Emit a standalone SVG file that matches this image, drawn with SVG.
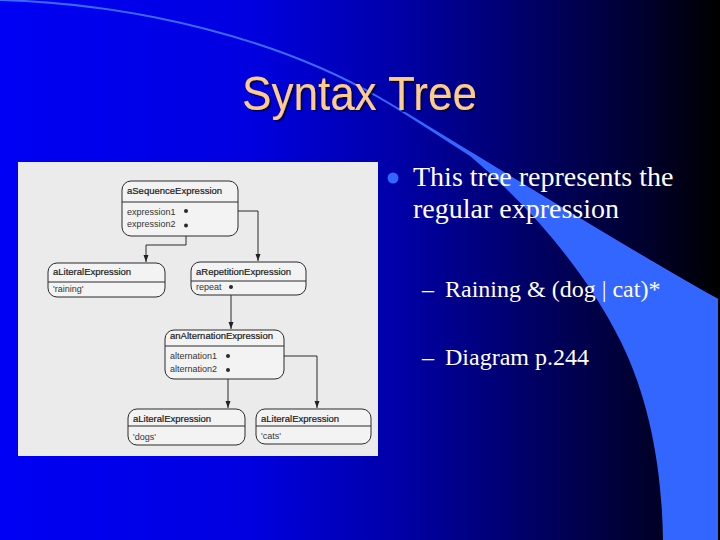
<svg xmlns="http://www.w3.org/2000/svg" width="720" height="540" viewBox="0 0 720 540">
<defs>
<linearGradient id="bg" x1="0" y1="0" x2="1" y2="0">
<stop offset="0" stop-color="#0000f4"/>
<stop offset="0.35" stop-color="#0000e0"/>
<stop offset="0.55" stop-color="#0000a8"/>
<stop offset="0.75" stop-color="#000062"/>
<stop offset="0.9" stop-color="#00002c"/>
<stop offset="1" stop-color="#000000"/>
</linearGradient>
<filter id="sh" x="-5%" y="-20%" width="115%" height="150%">
<feDropShadow dx="2" dy="2" stdDeviation="0.6" flood-color="#000030" flood-opacity="0.7"/>
</filter>
<marker id="arr" markerWidth="8" markerHeight="8" refX="7" refY="4" orient="auto" markerUnits="userSpaceOnUse">
<path d="M0,1.5 L7,4 L0,6.5 Z" fill="#222"/>
</marker>
<style>
.title{font-family:"Liberation Sans",Arial,sans-serif;font-size:48px;fill:#ffcc88}
.body{font-family:"Liberation Serif","Times New Roman",serif;fill:#ffffff}
.box{fill:#f3f3f3;stroke:#2a2a2a;stroke-width:1}
.div{stroke:#2a2a2a;stroke-width:1}
.nt{font-family:"Liberation Sans",Arial,sans-serif;font-size:9.5px;fill:#1a1a1a;stroke:#1a1a1a;stroke-width:0.2}
.at{font-family:"Liberation Sans",Arial,sans-serif;font-size:9px;fill:#333}
.con{fill:none;stroke:#2a2a2a;stroke-width:1}
.dot{fill:#2a2a2a}
</style>
</defs>
<rect width="720" height="540" fill="url(#bg)"/>
<path d="M0,0 C140,4 280,40 380,98 C440,133 618,245 718,300" fill="none" stroke="#3a6aff" stroke-width="2"/>
<path d="M380,98 C440,133 618,245 718,300 L718,540 L663,540 C662,470 650,400 620,340 C590,280 540,215 470,156 Z" fill="#3366ff"/>
<text class="title" x="242" y="110" textLength="235" lengthAdjust="spacingAndGlyphs" filter="url(#sh)">Syntax Tree</text>
<circle cx="393" cy="178" r="5.5" fill="#3366ff"/>
<text class="body" font-size="28" x="413" y="186">This tree represents the</text>
<text class="body" font-size="28" x="413" y="218">regular expression</text>
<text class="body" font-size="24" y="297"><tspan x="422">–</tspan><tspan x="445">Raining &amp; (dog | cat)*</tspan></text>
<text class="body" font-size="24" y="365"><tspan x="422">–</tspan><tspan x="445">Diagram p.244</tspan></text>
<rect x="18" y="162" width="360" height="294" fill="#ebebeb"/>
<g id="connectors">
<path class="con" d="M186,211 H258 V261" marker-end="url(#arr)"/>
<path class="con" d="M186,225.5 V245 H146 V262" marker-end="url(#arr)"/>
<path class="con" d="M231,287 V329" marker-end="url(#arr)"/>
<path class="con" d="M228,356 H317 V408" marker-end="url(#arr)"/>
<path class="con" d="M228,370 V408" marker-end="url(#arr)"/>
</g>
<g id="seq">
<rect class="box" x="122" y="181" width="116" height="55" rx="9"/>
<line class="div" x1="122" y1="202" x2="238" y2="202"/>
<text class="nt" x="127" y="194">aSequenceExpression</text>
<text class="at" x="127" y="215">expression1</text>
<text class="at" x="127" y="227">expression2</text>
<circle class="dot" cx="186" cy="211" r="2"/>
<circle class="dot" cx="186" cy="225.5" r="2"/>
</g>
<g id="lit-raining">
<rect class="box" x="48" y="263" width="117" height="34" rx="9"/>
<line class="div" x1="48" y1="282" x2="165" y2="282"/>
<text class="nt" x="53" y="275">aLiteralExpression</text>
<text class="at" x="53" y="292">'raining'</text>
</g>
<g id="rep">
<rect class="box" x="191" y="262" width="115" height="33" rx="9"/>
<line class="div" x1="191" y1="281" x2="306" y2="281"/>
<text class="nt" x="196" y="275">aRepetitionExpression</text>
<text class="at" x="196" y="290">repeat</text>
<circle class="dot" cx="231" cy="287" r="2"/>
</g>
<g id="alt">
<rect class="box" x="165" y="330" width="119" height="49" rx="9"/>
<line class="div" x1="165" y1="346" x2="284" y2="346"/>
<text class="nt" x="170" y="339">anAlternationExpression</text>
<text class="at" x="170" y="359">alternation1</text>
<text class="at" x="170" y="372">alternation2</text>
<circle class="dot" cx="228" cy="356" r="2"/>
<circle class="dot" cx="228" cy="370" r="2"/>
</g>
<g id="lit-dogs">
<rect class="box" x="128" y="409" width="117" height="36" rx="9"/>
<line class="div" x1="128" y1="426" x2="245" y2="426"/>
<text class="nt" x="133" y="422">aLiteralExpression</text>
<text class="at" x="133" y="440">'dogs'</text>
</g>
<g id="lit-cats">
<rect class="box" x="256" y="409" width="115" height="35" rx="9"/>
<line class="div" x1="256" y1="426" x2="371" y2="426"/>
<text class="nt" x="261" y="422">aLiteralExpression</text>
<text class="at" x="261" y="439">'cats'</text>
</g>
</svg>
